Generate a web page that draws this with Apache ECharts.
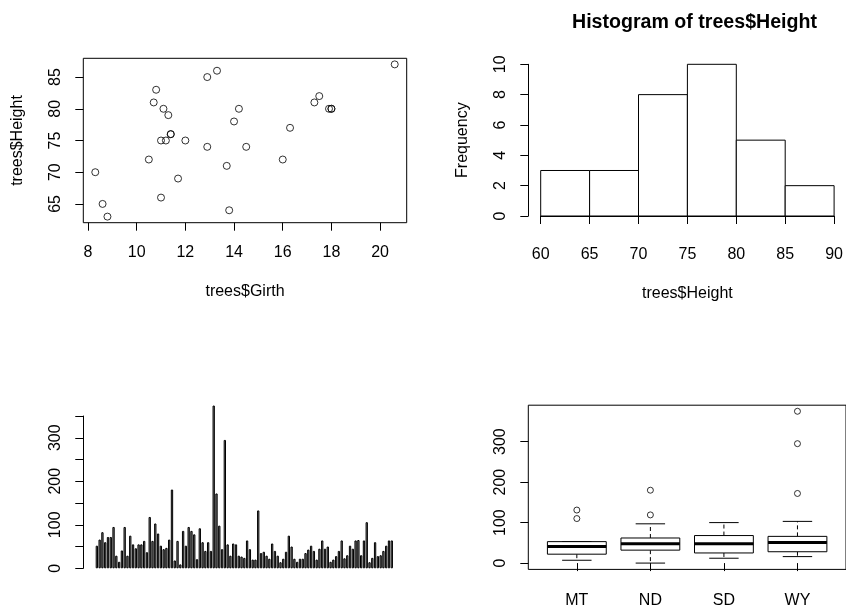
<!DOCTYPE html>
<html>
<head>
<meta charset="utf-8">
<script src="https://cdn.jsdelivr.net/npm/echarts@6/dist/echarts.min.js"></script>
<style>
  html, body { margin: 0; padding: 0; background: #fff; }
  #chart { width: 846px; height: 609px; }
</style>
</head>
<body>
<div id="chart"></div>
<script>
// trees data: girth vs height
const girth = [8.3, 8.6, 8.8, 10.5, 10.7, 10.8, 11.0, 11.0, 11.1, 11.2, 11.3, 11.4, 11.4, 11.7, 12.0, 12.9,
  12.9, 13.3, 13.7, 13.8, 14.0, 14.2, 14.5, 16.0, 16.3, 17.3, 17.5, 17.9, 18.0, 18.0, 20.6];
const height = [70, 65, 63, 72, 81, 83, 66, 75, 80, 75, 79, 76, 76, 69, 75, 74,
  85, 86, 71, 64, 78, 80, 74, 72, 77, 81, 82, 80, 80, 80, 87];

// histogram of heights
const histBreaks = [60, 65, 70, 75, 80, 85, 90];
const histCounts = [3, 3, 8, 10, 5, 2];

// bar plot values
const barValues = [
  52, 66, 83, 60, 72, 72, 95, 29, 15, 41, 95, 29, 75, 55, 46, 55, 55, 63, 37, 118,
  63, 103, 80, 52, 44, 47, 66, 181, 18, 63, 9, 86, 52, 95, 86, 78, 21, 92, 60, 40,
  60, 40, 374, 172, 98, 44, 295, 55, 29, 57, 55, 29, 27, 24, 64, 44, 20, 20, 133, 35,
  38, 29, 22, 57, 40, 29, 14, 22, 38, 75, 50, 22, 15, 22, 22, 35, 43, 52, 40, 20,
  45, 64, 45, 50, 15, 20, 28, 40, 64, 23, 30, 52, 45, 64, 65, 30, 64, 106, 14, 24,
  60, 28, 30, 40, 52, 64, 64
];

// box plot by state: [lower whisker, Q1, median, Q3, upper whisker]
const states = ['MT', 'ND', 'SD', 'WY'];
const boxStats = [
  [7, 22, 41, 53, 53],
  [0, 32, 48, 62, 97],
  [12, 25, 48, 68, 100],
  [16, 28, 51, 66, 103]
];
const outlierState = [1, 1, 2, 2, 4, 4, 4];
const outlierValue = [110, 131, 119, 180, 172, 295, 375];

// tick positions
const girthTicks = [8, 10, 12, 14, 16, 18, 20];
const heightTicks = [65, 70, 75, 80, 85];
const boxYTicks = [0, 100, 200, 300];
const boxXTicks = [1, 2, 3, 4];

const FONT = 'Liberation Sans, Arial, sans-serif';
const INK = '#000';

function labelStyle(extra) {
  return Object.assign({ color: INK, fontFamily: FONT, fontSize: 16 }, extra || {});
}
function tickStyle() {
  return { show: true, inside: false, length: 8, lineStyle: { color: INK, width: 1 } };
}

const chart = echarts.init(document.getElementById('chart'), null, { renderer: 'canvas' });

const option = {
  backgroundColor: '#fff',
  animation: false,
  title: {
    text: 'Histogram of trees$Height',
    left: 689.5,
    top: 8,
    textAlign: 'center',
    textStyle: { fontFamily: FONT, fontSize: 19.6, fontWeight: 'bold', color: INK }
  },
  grid: [
    { left: 83.3, top: 58.3, width: 323.4, height: 164.4, show: true, borderColor: INK, borderWidth: 1, backgroundColor: 'transparent' },
    { left: 540.7, top: 64.3, width: 298.6, height: 151.7 },
    { left: 95.47, top: 416, width: 297.7, height: 152.3 },
    { left: 528.3, top: 405.2, width: 323.4, height: 164.2, show: true, borderColor: INK, borderWidth: 1, backgroundColor: 'transparent' }
  ],
  xAxis: [
    {
      gridIndex: 0, type: 'value', min: 7.808, max: 21.092,
      axisLine: { show: false }, splitLine: { show: false },
      axisTick: Object.assign(tickStyle(), { customValues: girthTicks }),
      axisLabel: labelStyle({ customValues: girthTicks, margin: 22 }),
      name: 'trees$Girth', nameLocation: 'middle', nameGap: 61,
      nameTextStyle: labelStyle()
    },
    {
      gridIndex: 1, type: 'value', min: 60, max: 90, interval: 5, offset: 6.3,
      axisLine: { show: true, lineStyle: { color: INK, width: 1 } }, splitLine: { show: false },
      axisTick: tickStyle(),
      axisLabel: labelStyle({ margin: 24 }),
      name: 'trees$Height', nameLocation: 'middle', nameGap: 63,
      nameTextStyle: labelStyle()
    },
    {
      gridIndex: 2, type: 'category', data: barValues.map((v, i) => i + 1),
      show: false
    },
    {
      gridIndex: 3, type: 'value', min: 0.34, max: 4.66,
      axisLine: { show: false }, splitLine: { show: false },
      axisTick: Object.assign(tickStyle(), { customValues: boxXTicks }),
      axisLabel: labelStyle({ customValues: boxXTicks, margin: 23, formatter: v => states[Math.round(v) - 1] })
    }
  ],
  yAxis: [
    {
      gridIndex: 0, type: 'value', min: 62.04, max: 87.96,
      axisLine: { show: false }, splitLine: { show: false },
      axisTick: Object.assign(tickStyle(), { customValues: heightTicks }),
      axisLabel: labelStyle({ customValues: heightTicks, rotate: 90, margin: 20 }),
      name: 'trees$Height', nameLocation: 'middle', nameGap: 58,
      nameTextStyle: labelStyle()
    },
    {
      gridIndex: 1, type: 'value', min: 0, max: 10, interval: 2, offset: 12.4,
      axisLine: { show: true, lineStyle: { color: INK, width: 1 } }, splitLine: { show: false },
      axisTick: tickStyle(),
      axisLabel: labelStyle({ rotate: 90, margin: 20 }),
      name: 'Frequency', nameLocation: 'middle', nameGap: 58,
      nameTextStyle: labelStyle()
    },
    {
      gridIndex: 2, type: 'value', min: 0, max: 350, interval: 50, offset: 12.2,
      axisLine: { show: true, lineStyle: { color: INK, width: 1 } }, splitLine: { show: false },
      axisTick: tickStyle(),
      axisLabel: labelStyle({ rotate: 90, margin: 20, formatter: v => (v % 100 === 0 && v <= 300 ? String(v) : '') })
    },
    {
      gridIndex: 3, type: 'value', min: -15.6, max: 390,
      axisLine: { show: false }, splitLine: { show: false },
      axisTick: Object.assign(tickStyle(), { customValues: boxYTicks }),
      axisLabel: labelStyle({ customValues: boxYTicks, rotate: 90, margin: 20 })
    }
  ],
  series: [
    {
      type: 'scatter', xAxisIndex: 0, yAxisIndex: 0,
      data: girth.map((g, i) => [g, height[i]]),
      symbol: 'circle', symbolSize: 7,
      itemStyle: { color: 'transparent', borderColor: INK, borderWidth: 1 }
    },
    {
      type: 'custom', xAxisIndex: 1, yAxisIndex: 1,
      data: histCounts.map((c, i) => [histBreaks[i], histBreaks[i + 1], c]),
      encode: { x: [0, 1], y: 2 },
      renderItem: (params, api) => {
        const p0 = api.coord([api.value(0), 0]);
        const p1 = api.coord([api.value(1), api.value(2)]);
        return {
          type: 'rect',
          shape: { x: p0[0], y: p1[1], width: p1[0] - p0[0], height: p0[1] - p1[1] },
          style: { fill: '#fff', stroke: INK, lineWidth: 1 }
        };
      }
    },
    {
      type: 'bar', xAxisIndex: 2, yAxisIndex: 2,
      data: barValues, clip: false,
      barCategoryGap: '16.667%',
      itemStyle: { color: '#8c8c8c', borderColor: INK, borderWidth: 1 }
    },
    {
      type: 'custom', xAxisIndex: 3, yAxisIndex: 3,
      data: boxStats.map((s, i) => [i + 1].concat(s)),
      encode: { x: 0, y: [1, 2, 3, 4, 5] },
      renderItem: (params, api) => {
        const x = api.value(0);
        const cx = api.coord([x, 0])[0];
        const half = api.size([0.8, 0])[0] / 2;
        const sh = half / 2;
        const y = k => api.coord([x, api.value(k)])[1];
        const lo = y(1), q1 = y(2), md = y(3), q3 = y(4), hi = y(5);
        const line = (x1, y1, x2, y2, extra) => ({
          type: 'line', shape: { x1, y1, x2, y2 },
          style: Object.assign({ stroke: INK, lineWidth: 1 }, extra || {})
        });
        return {
          type: 'group',
          children: [
            line(cx, q3, cx, hi, { lineDash: [4, 3] }),
            line(cx, q1, cx, lo, { lineDash: [4, 3] }),
            line(cx - sh, hi, cx + sh, hi),
            line(cx - sh, lo, cx + sh, lo),
            { type: 'rect', shape: { x: cx - half, y: q3, width: 2 * half, height: q1 - q3 },
              style: { fill: '#fff', stroke: INK, lineWidth: 1 } },
            line(cx - half, md, cx + half, md, { lineWidth: 3 })
          ]
        };
      }
    },
    {
      type: 'scatter', xAxisIndex: 3, yAxisIndex: 3,
      data: outlierState.map((s, i) => [s, outlierValue[i]]),
      symbol: 'circle', symbolSize: 6,
      itemStyle: { color: 'transparent', borderColor: INK, borderWidth: 1 }
    }
  ]
};

chart.setOption(option);
</script>
</body>
</html>
